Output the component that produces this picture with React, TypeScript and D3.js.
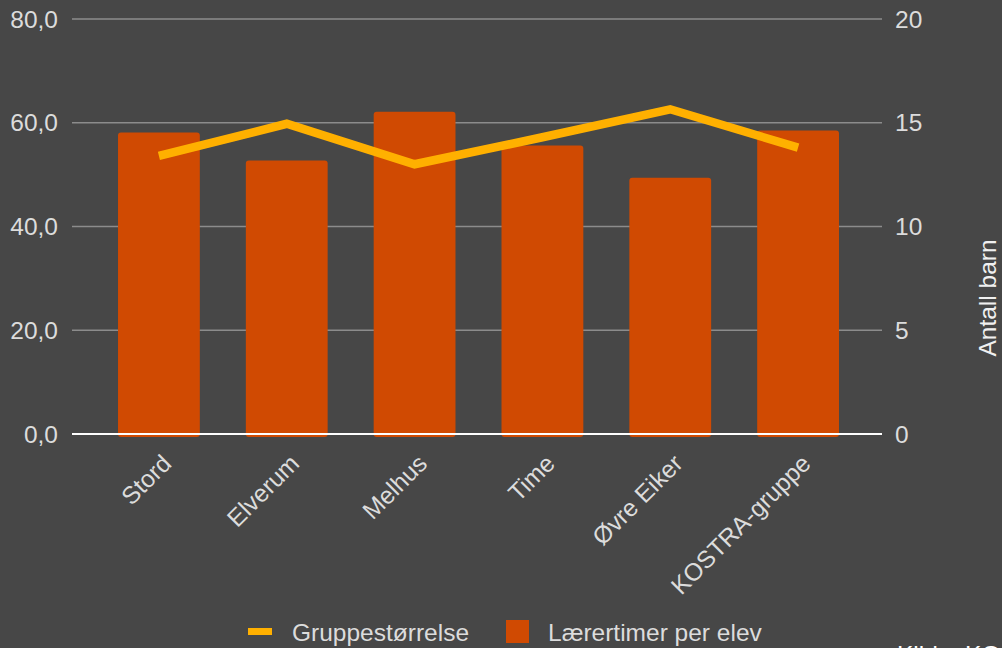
import React from "react";
import * as d3 from "d3";

const categories = ["Stord", "Elverum", "Melhus", "Time", "Øvre Eiker", "KOSTRA-gruppe"];
const laerertimer = [58.1, 52.7, 62.1, 55.6, 49.4, 58.5];
const gruppestorrelse = [13.4, 14.95, 13.0, 14.3, 15.65, 13.8];
const leftTicks = [0, 20, 40, 60, 80];
const rightTicks = [0, 5, 10, 15, 20];

const W = 1002, H = 648;
const FONT = "'Liberation Sans', Arial, sans-serif";
const FS = 24.5;
const TXT = "#dcdcdc";

export default function App() {
  const x = d3.scaleBand<string>().domain(categories).range([95, 862]).paddingInner(0.36).paddingOuter(0.18);
  const yL = d3.scaleLinear().domain([0, 80]).range([434, 19]);
  const yR = d3.scaleLinear().domain([0, 20]).range([434, 19]);
  const fmt = (v: number) => v.toFixed(1).replace(".", ",");
  const line = d3.line<number>()
    .x((_, i) => (x(categories[i]) as number) + x.bandwidth() / 2)
    .y((d) => yR(d));
  return (
    <svg width={W} height={H} style={{ position: "fixed", left: 0, top: 0, background: "#474747" }}>
      <rect width={W} height={H} fill="#474747" />
      {leftTicks.map((t) => (
        <g key={t}>
          {t !== 0 && <line x1={72} x2={882} y1={yL(t)} y2={yL(t)} stroke="#8c8c8c" strokeWidth={1.5} />}
          <text x={58} y={yL(t)} dy="0.35em" textAnchor="end" fill={TXT} fontSize={FS} fontFamily={FONT}>{fmt(t)}</text>
        </g>
      ))}
      {rightTicks.map((t) => (
        <text key={t} x={895} y={yR(t)} dy="0.35em" textAnchor="start" fill={TXT} fontSize={FS} fontFamily={FONT}>{t}</text>
      ))}
      {categories.map((c, i) => (
        <rect key={c} x={x(c)} y={yL(laerertimer[i])} width={x.bandwidth()} height={yL(0) - yL(laerertimer[i]) + 3} rx={3} fill="#d04a02" />
      ))}
      <line x1={72} x2={882} y1={yL(0)} y2={yL(0)} stroke="#ffffff" strokeWidth={2} />
      <path d={line(gruppestorrelse) as string} fill="none" stroke="#ffb000" strokeWidth={8.5} strokeLinejoin="miter" />
      {categories.map((c) => {
        const cx = (x(c) as number) + x.bandwidth() / 2 + 14;
        return (
          <text key={c} transform={`translate(${cx},${465}) rotate(-45)`} textAnchor="end" fill={TXT} fontSize={FS} fontFamily={FONT}>{c}</text>
        );
      })}
      <text transform={`translate(${996},${298}) rotate(-90)`} textAnchor="middle" fill="#f0f0f0" fontSize={FS} fontFamily={FONT}>Antall barn</text>
      <g>
        <rect x={248} y={628} width={24} height={7} fill="#ffb000" />
        <text x={292} y={632} dy="0.35em" fill={TXT} fontSize={FS} fontFamily={FONT}>Gruppestørrelse</text>
        <rect x={506} y={620} width={23} height={23} fill="#d04a02" />
        <text x={548} y={632} dy="0.35em" fill={TXT} fontSize={FS} fontFamily={FONT}>Lærertimer per elev</text>
      </g>
      <text x={897} y={663} fill="#ffffff" fontSize={FS} fontFamily={FONT}>Kilde: KOSTRA</text>
    </svg>
  );
}
